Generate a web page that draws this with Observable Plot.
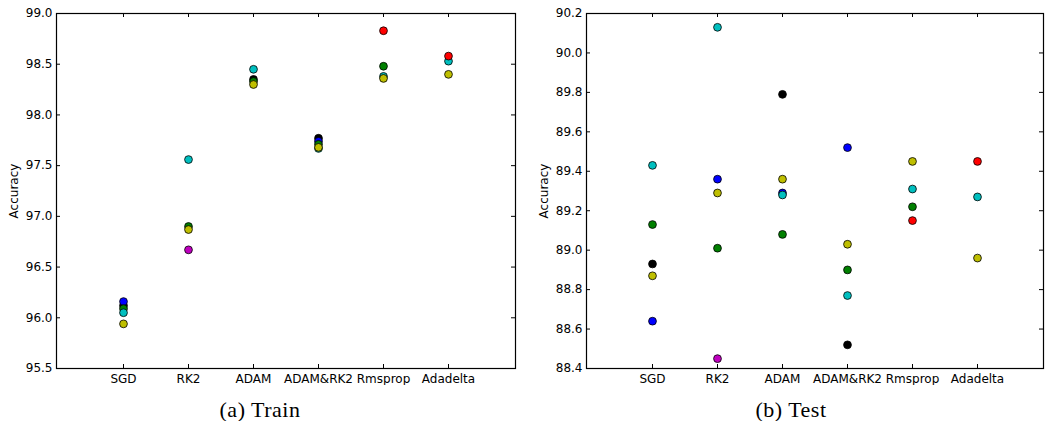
<!DOCTYPE html>
<html>
<head>
<meta charset="utf-8">
<script src="https://cdn.jsdelivr.net/npm/d3@7"></script>
<script src="https://cdn.jsdelivr.net/npm/@observablehq/plot@0.6"></script>
<style>
  html, body { margin: 0; padding: 0; background: #fff; }
  #wrap { position: relative; width: 1045px; height: 421px; overflow: hidden; }
  .panel { position: absolute; top: 0; }
  .cap { position: absolute; top: 399px; width: 200px; text-align: center;
         font-family: "Liberation Serif", "Times New Roman", serif; font-size: 22px;
         line-height: 22px; letter-spacing: 0.5px; color: #000; }
</style>
</head>
<body>
<div id="wrap">
  <div class="panel" id="left" style="left:0px"></div>
  <div class="panel" id="right" style="left:530px"></div>
  <div class="cap" style="left:160px">(a) Train</div>
  <div class="cap" style="left:691px">(b) Test</div>
</div>
<script>
// Categories
const methods = ["SGD", "RK2", "ADAM", "ADAM&RK2", "Rmsprop", "Adadelta"];

// Series (matplotlib colour codes), one value per method, null = no point
const seriesNames = ["k", "b", "g", "c", "y", "m", "r"];

// Train accuracy
const trainK = [96.12, null, 98.35, 97.77, null, null];
const trainB = [96.16, null, null, 97.74, null, null];
const trainG = [96.09, 96.90, 98.33, 97.71, 98.48, null];
const trainC = [96.05, 97.56, 98.45, 97.67, 98.38, 98.53];
const trainY = [95.94, 96.87, 98.30, 97.68, 98.36, 98.40];
const trainM = [null, 96.67, null, null, null, null];
const trainR = [null, null, null, null, 98.83, 98.58];

// Test accuracy
const testK = [88.93, null, 89.79, 88.52, null, null];
const testB = [88.64, 89.36, 89.29, 89.52, null, null];
const testG = [89.13, 89.01, 89.08, 88.90, 89.22, null];
const testC = [89.43, 90.13, 89.28, 88.77, 89.31, 89.27];
const testY = [88.87, 89.29, 89.36, 89.03, 89.45, 88.96];
const testM = [null, 88.45, null, null, null, null];
const testR = [null, null, null, null, 89.15, 89.45];

// Tick labels
const trainTicks = [95.5, 96.0, 96.5, 97.0, 97.5, 98.0, 98.5, 99.0];
const testTicks = [88.4, 88.6, 88.8, 89.0, 89.2, 89.4, 89.6, 89.8, 90.0, 90.2];

const colorMap = {k: "#000000", b: "#0000ff", g: "#008000", c: "#00bfbf", y: "#bfbf00", m: "#bf00bf", r: "#ff0000"};

function toRows(seriesArrays) {
  const rows = [];
  seriesArrays.forEach((arr, si) => {
    arr.forEach((v, i) => {
      if (v != null) rows.push({method: methods[i], value: v, series: seriesNames[si]});
    });
  });
  return rows;
}

const trainRows = toRows([trainK, trainB, trainG, trainC, trainY, trainM, trainR]);
const testRows = toRows([testK, testB, testG, testC, testY, testM, testR]);

function panel(rows, ticks, domain, opts) {
  const width = opts.width, height = 385;
  const mt = 13, mb = 17, ml = opts.ml, mr = opts.mr;
  const iw = width - ml - mr, ih = height - mt - mb;
  const tl = 4;
  return Plot.plot({
    width, height,
    marginTop: mt, marginBottom: mb, marginLeft: ml, marginRight: mr,
    style: {fontFamily: "'DejaVu Sans', sans-serif", fontSize: "12px", color: "#000", background: "#fff"},
    x: {type: "point", domain: methods, padding: 1},
    y: {domain, ticks},
    color: {type: "ordinal", domain: seriesNames, range: seriesNames.map(s => colorMap[s])},
    marks: [
      // inward ticks on all four sides
      Plot.tickY(ticks, {y: d => d, insetRight: iw - tl, stroke: "#000", strokeWidth: 1}),
      Plot.tickY(ticks, {y: d => d, insetLeft: iw - tl, stroke: "#000", strokeWidth: 1}),
      Plot.tickX(methods, {x: d => d, insetTop: ih - tl, stroke: "#000", strokeWidth: 1}),
      Plot.tickX(methods, {x: d => d, insetBottom: ih - tl, stroke: "#000", strokeWidth: 1}),
      Plot.axisY(ticks, {anchor: "left", tickSize: 0, tickPadding: 4, tickFormat: d => d.toFixed(1),
        label: "Accuracy", labelAnchor: "center", labelOffset: opts.labelOffset, labelArrow: "none"}),
      Plot.axisX(methods, {anchor: "bottom", tickSize: 0, tickPadding: 6, label: null}),
      Plot.dot(rows, {x: "method", y: "value", fill: "series", stroke: "#000", strokeWidth: 0.8, r: 3.9}),
      Plot.frame({stroke: "#000", strokeWidth: 1.2})
    ]
  });
}

document.getElementById("left").appendChild(
  panel(trainRows, trainTicks, [95.5, 99.0], {width: 520, ml: 56, mr: 5, labelOffset: 47}));
document.getElementById("right").appendChild(
  panel(testRows, testTicks, [88.4, 90.2], {width: 515, ml: 56, mr: 2, labelOffset: 47}));
</script>
</body>
</html>
